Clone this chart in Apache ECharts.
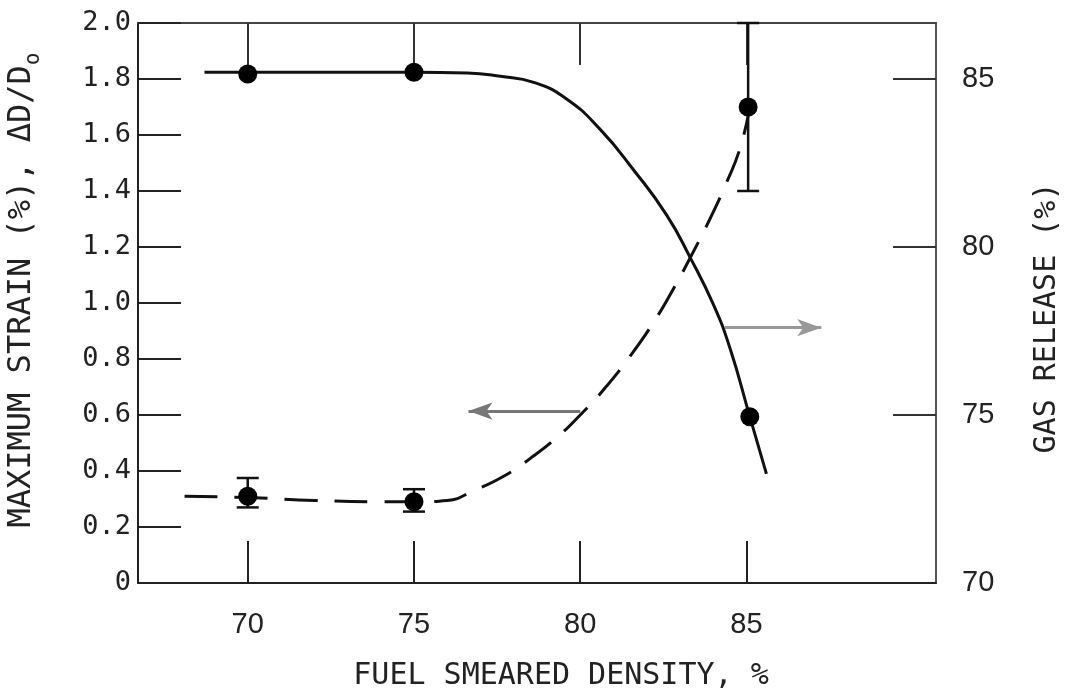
<!DOCTYPE html>
<html>
<head>
<meta charset="utf-8">
<title>strain and gas release vs smeared density</title>
<script src="https://cdn.jsdelivr.net/npm/echarts@6.0.0/dist/echarts.min.js"></script>
<style>
  html, body { margin: 0; padding: 0; background: #fff; }
  #chart { width: 1073px; height: 691px; }
</style>
</head>
<body>
<div id="chart"></div>
<script>
// tick labels
const xTicks = [70, 75, 80, 85]
const gasTicks = [70, 75, 80, 85]

// measured points, max strain (left axis)
const strainX = [70, 75, 85.05]
const strainY = [0.31, 0.29, 1.70]
const strainLo = [0.27, 0.255, 1.40]
const strainHi = [0.375, 0.335, 2.0]

// measured points, gas release (right axis)
const gasX = [70, 75, 85.1]
const gasY = [85.15, 85.2, 74.95]

// dashed fit curve for strain
const strainCurveX = [68.1, 70, 72, 74, 75, 76, 76.8, 77.75, 78.5, 79.3, 80.0, 80.7, 81.5, 82.2, 82.8, 83.3, 83.9, 84.4, 84.8, 85.05]
const strainCurveY = [0.31, 0.305, 0.295, 0.29, 0.29, 0.295, 0.33, 0.385, 0.445, 0.52, 0.60, 0.69, 0.81, 0.93, 1.05, 1.16, 1.30, 1.43, 1.55, 1.67]

// solid fit curve for gas release
const gasCurveX = [68.7, 70, 75, 76.6, 77.6, 78.6, 79.6, 80.6, 81.6, 82.6, 83.3, 84.0, 84.5, 85.1, 85.6]
const gasCurveY = [85.2, 85.2, 85.2, 85.18, 85.08, 84.9, 84.4, 83.5, 82.3, 80.95, 79.7, 78.3, 77.0, 74.95, 73.25]

// arrows telling which axis each curve uses (data coords: start, tip)
const strainArrow = [[80.0, 0.614], [76.64, 0.614]]
const gasArrow = [[84.35, 77.6], [87.25, 77.6]]

const zip = (a, b) => a.map((v, i) => [v, b[i]])

const chart = echarts.init(document.getElementById('chart'))

const axisLine = { show: true, lineStyle: { color: '#222', width: 2 } }
const labelFont = { fontFamily: 'Liberation Sans', fontSize: 29, color: '#222' }
const monoFont = 'DejaVu Sans Mono'

const option = {
    animation: false,
    backgroundColor: '#fff',
    grid: { left: 138, right: 137, top: 23, bottom: 108, containLabel: false, outerBoundsMode: 'none' },
    xAxis: [{
        type: 'value',
        position: 'bottom',
        min: 66.7,
        max: 90.7,
        axisLine: axisLine,
        splitLine: { show: false },
        axisTick: { inside: true, length: 42, customValues: xTicks, lineStyle: { color: '#222', width: 2 } },
        axisLabel: { customValues: xTicks, margin: 27, ...labelFont },
        name: 'FUEL SMEARED DENSITY, %',
        nameLocation: 'middle',
        nameGap: 78,
        nameTextStyle: { fontFamily: monoFont, fontSize: 30, color: '#222', padding: [0, 0, 0, 48] }
    }, {
        type: 'value',
        position: 'top',
        min: 66.7,
        max: 90.7,
        axisLine: { show: true, lineStyle: { color: '#444', width: 2 } },
        splitLine: { show: false },
        axisTick: { inside: true, length: 42, customValues: xTicks, lineStyle: { color: '#333', width: 2 } },
        axisLabel: { show: false }
    }],
    yAxis: [{
        type: 'value',
        position: 'left',
        min: 0,
        max: 2,
        interval: 0.2,
        axisLine: axisLine,
        splitLine: { show: false },
        axisTick: { inside: true, length: 43, lineStyle: { color: '#222', width: 2 } },
        axisLabel: {
            margin: 7,
            fontFamily: monoFont,
            fontSize: 27,
            color: '#222',
            formatter: v => (v === 0 ? '0' : v.toFixed(1))
        },
        name: 'MAXIMUM STRAIN (%), \u0394D/D{sub|o}',
        nameLocation: 'middle',
        nameRotate: 90,
        nameGap: 100,
        nameTextStyle: {
            fontFamily: monoFont, fontSize: 32, color: '#222', padding: [0, 0, 0, 26],
            rich: { sub: { fontFamily: monoFont, fontSize: 21, color: '#222', verticalAlign: 'bottom', padding: [0, 0, -6, 0] } }
        }
    }, {
        type: 'value',
        position: 'right',
        min: 70,
        max: 70 + 2.0 * 15 / 1.8,
        axisLine: { show: true, lineStyle: { color: '#555', width: 2 } },
        splitLine: { show: false },
        axisTick: { inside: true, length: 43, customValues: [75, 80, 85], lineStyle: { color: '#333', width: 2 } },
        axisLabel: { customValues: gasTicks, margin: 26, ...labelFont },
        name: 'GAS RELEASE (%)',
        nameLocation: 'middle',
        nameRotate: 90,
        nameGap: 96,
        nameTextStyle: { fontFamily: monoFont, fontSize: 30, color: '#222', padding: [0, 30, 0, 0] }
    }],
    series: [{
        name: 'strain fit',
        type: 'line',
        xAxisIndex: 0,
        yAxisIndex: 0,
        data: zip(strainCurveX, strainCurveY),
        smooth: 0.5,
        showSymbol: false,
        lineStyle: { color: '#111', width: 3, type: [33, 17] },
        markLine: {
            silent: true,
            symbol: ['none', 'arrow'],
            symbolSize: [13, 24],
            label: { show: false },
            lineStyle: { color: '#777', width: 3, type: 'solid' },
            data: [[{ coord: strainArrow[0] }, { coord: strainArrow[1] }]]
        }
    }, {
        name: 'gas fit',
        type: 'line',
        xAxisIndex: 0,
        yAxisIndex: 1,
        data: zip(gasCurveX, gasCurveY),
        smooth: 0.5,
        showSymbol: false,
        lineStyle: { color: '#111', width: 3 },
        markLine: {
            silent: true,
            symbol: ['none', 'arrow'],
            symbolSize: [13, 24],
            label: { show: false },
            lineStyle: { color: '#999', width: 3, type: 'solid' },
            data: [[{ coord: gasArrow[0] }, { coord: gasArrow[1] }]]
        }
    }, {
        name: 'strain error',
        type: 'custom',
        xAxisIndex: 0,
        yAxisIndex: 0,
        data: strainX.map((x, i) => [x, strainLo[i], strainHi[i]]),
        renderItem: (params, api) => {
            const lo = api.coord([api.value(0), api.value(1)])
            const hi = api.coord([api.value(0), api.value(2)])
            const w = 11
            const st = { stroke: '#111', lineWidth: 2.5 }
            return {
                type: 'group',
                children: [
                    { type: 'line', shape: { x1: lo[0], y1: lo[1], x2: hi[0], y2: hi[1] }, style: st },
                    { type: 'line', shape: { x1: lo[0] - w, y1: lo[1], x2: lo[0] + w, y2: lo[1] }, style: st },
                    { type: 'line', shape: { x1: hi[0] - w, y1: hi[1], x2: hi[0] + w, y2: hi[1] }, style: st }
                ]
            }
        },
        z: 3
    }, {
        name: 'strain',
        type: 'scatter',
        xAxisIndex: 0,
        yAxisIndex: 0,
        data: zip(strainX, strainY),
        symbol: 'circle',
        symbolSize: 19,
        itemStyle: { color: '#000', opacity: 1 },
        z: 4
    }, {
        name: 'gas release',
        type: 'scatter',
        xAxisIndex: 0,
        yAxisIndex: 1,
        data: zip(gasX, gasY),
        symbol: 'circle',
        symbolSize: 19,
        itemStyle: { color: '#000', opacity: 1 },
        z: 4
    }]
}

chart.setOption(option)
</script>
</body>
</html>
